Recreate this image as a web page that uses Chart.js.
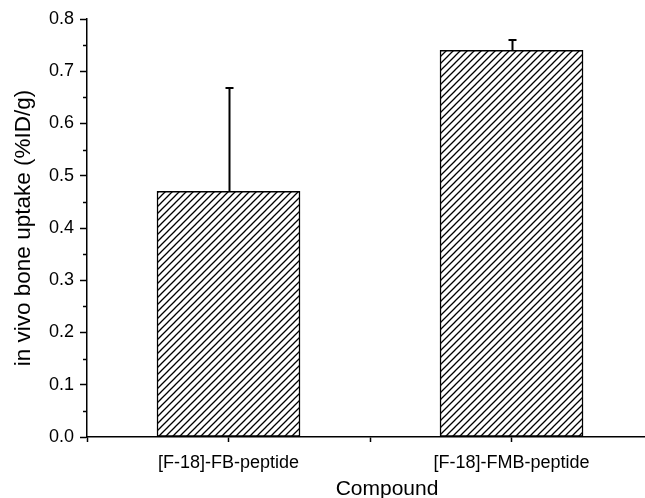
<!DOCTYPE html>
<html>
<head>
<meta charset="utf-8">
<script src="https://cdn.jsdelivr.net/npm/chart.js@4.4.0/dist/chart.umd.min.js"></script>
<style>
html,body{margin:0;padding:0;background:#fff;overflow:hidden;width:645px;height:498px;}
#wrap{width:700px;height:498px;}
</style>
</head>
<body>
<div id="wrap"><canvas id="c" width="700" height="498"></canvas></div>
<script>
const categories = ['[F-18]-FB-peptide', '[F-18]-FMB-peptide'];
const uptake = [0.47, 0.74];
const errorUp = [0.198, 0.02];
const yTicks = [0, 0.1, 0.2, 0.3, 0.4, 0.5, 0.6, 0.7, 0.8];
const yMinorTicks = [0.05, 0.15, 0.25, 0.35, 0.45, 0.55, 0.65, 0.75];
const xTitle = 'Compound';
const yTitle = 'in vivo bone uptake (%ID/g)';

function hatch() {
  const s = 7;
  const c = document.createElement('canvas');
  c.width = s; c.height = s;
  const g = c.getContext('2d');
  g.fillStyle = '#fff'; g.fillRect(0, 0, s, s);
  g.strokeStyle = '#000'; g.lineWidth = 1.3;
  g.beginPath();
  g.moveTo(-1, s + 1); g.lineTo(s + 1, -1);
  g.moveTo(-1, 1); g.lineTo(1, -1);
  g.moveTo(s - 1, s + 1); g.lineTo(s + 1, s - 1);
  g.stroke();
  return g.createPattern(c, 'repeat');
}

const FONT = "'Liberation Sans', Arial, sans-serif";

const extras = {
  id: 'extras',
  afterDatasetsDraw(chart) {
    const ctx = chart.ctx;
    const meta = chart.getDatasetMeta(0);
    const ys = chart.scales.y;
    ctx.save();
    ctx.strokeStyle = '#000';
    ctx.lineWidth = 2;
    meta.data.forEach((bar, i) => {
      const top = ys.getPixelForValue(uptake[i] + errorUp[i]);
      const x = Math.round(bar.x) + 0.5;
      ctx.beginPath();
      ctx.moveTo(x, bar.y);
      ctx.lineTo(x, top);
      ctx.moveTo(x - 4, top);
      ctx.lineTo(x + 4, top);
      ctx.stroke();
    });
    ctx.restore();
  },
  afterDraw(chart) {
    const ctx = chart.ctx;
    const ys = chart.scales.y;
    const left = chart.chartArea.left;
    ctx.save();
    ctx.strokeStyle = '#000';
    ctx.lineWidth = 1.5;
    yMinorTicks.forEach(v => {
      const y = Math.round(ys.getPixelForValue(v)) + 0.5;
      ctx.beginPath();
      ctx.moveTo(left - 4, y);
      ctx.lineTo(left, y);
      ctx.stroke();
    });
    ctx.restore();
  }
};

new Chart(document.getElementById('c'), {
  type: 'bar',
  data: {
    datasets: [{
      data: uptake.map((v, i) => ({ x: i + 1, y: v })),
      backgroundColor: hatch(),
      borderColor: '#000',
      borderWidth: 1.5,
      borderSkipped: false,
      barThickness: 143
    }]
  },
  plugins: [extras],
  options: {
    responsive: false,
    animation: false,
    events: [],
    layout: { padding: { top: 19, right: 13, left: 0, bottom: 0 } },
    plugins: { legend: { display: false }, tooltip: { enabled: false } },
    scales: {
      x: {
        type: 'linear',
        offset: false,
        min: 0.5,
        max: 2.62,
        afterBuildTicks(scale) {
          scale.ticks = [0.5, 1, 1.5, 2, 2.5].map(v => ({ value: v }));
        },
        ticks: {
          autoSkip: false,
          maxRotation: 0,
          includeBounds: false,
          padding: 10,
          color: '#000',
          font: { family: FONT, size: 18 },
          callback: (v) => Number.isInteger(v) ? categories[v - 1] : ''
        },
        grid: { display: true, offset: false, drawOnChartArea: false, tickLength: 5, tickColor: '#000', tickWidth: 1.5 },
        border: { display: true, color: '#000', width: 1.5 },
        title: { display: true, text: xTitle, color: '#000', font: { family: FONT, size: 21, lineHeight: 0.8 }, padding: 0 },
        afterFit(scale) { scale.height = 61; }
      },
      y: {
        min: 0,
        max: 0.8,
        afterBuildTicks(scale) {
          scale.ticks = yTicks.map(v => ({ value: v }));
        },
        ticks: {
          padding: 6,
          color: '#000',
          font: { family: FONT, size: 18 },
          callback: (v) => Number(v).toFixed(1)
        },
        grid: { display: true, drawOnChartArea: false, tickLength: 7, tickColor: '#000', tickWidth: 1.5 },
        border: { display: true, color: '#000', width: 1.5 },
        title: { display: true, text: yTitle, color: '#000', font: { family: FONT, size: 22.5, lineHeight: 1.2 }, padding: { top: 10, bottom: 0 } },
        afterFit(scale) { scale.width = 87; }
      }
    }
  }
});
</script>
</body>
</html>
